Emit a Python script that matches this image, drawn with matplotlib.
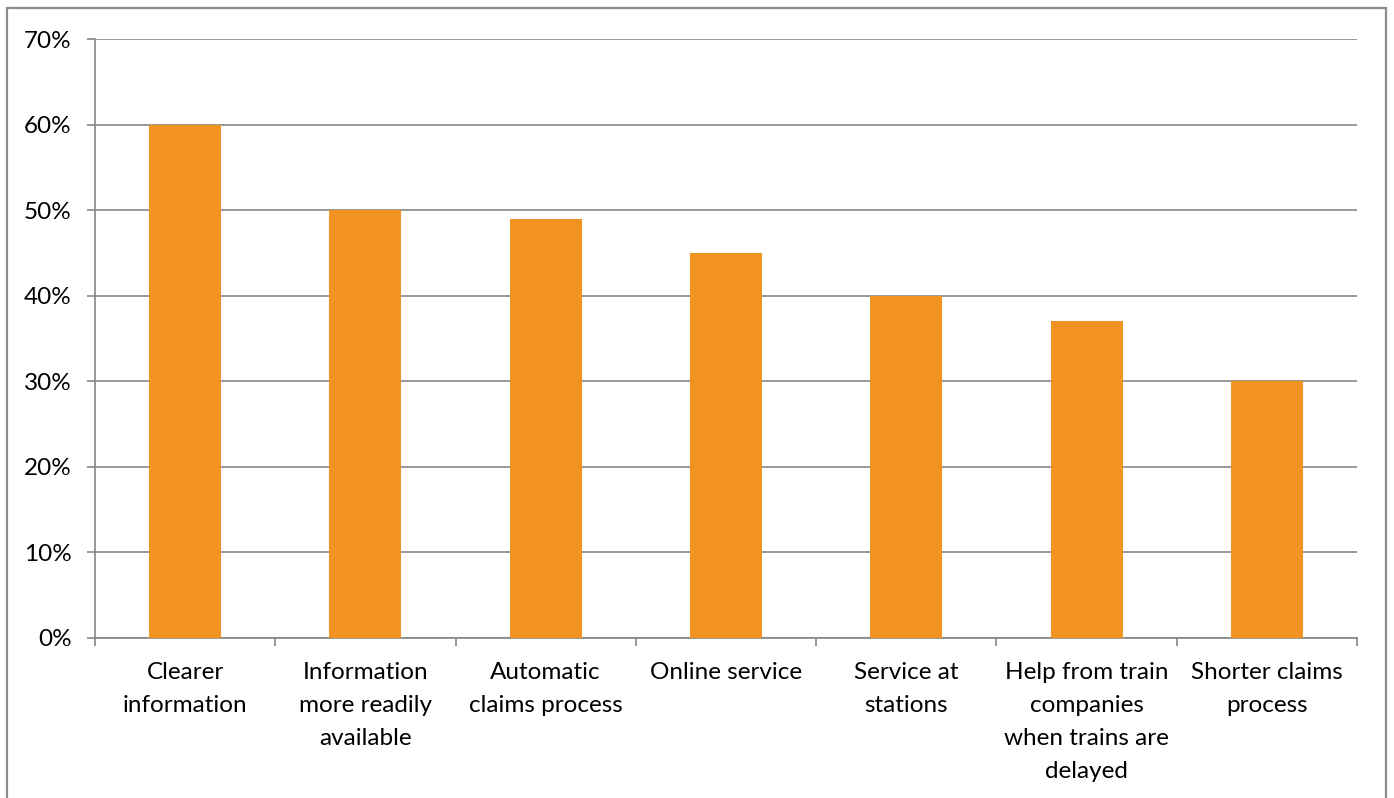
import matplotlib
matplotlib.use("Agg")
import matplotlib.pyplot as plt
from matplotlib.patches import Rectangle
from matplotlib.ticker import FuncFormatter, MultipleLocator

categories = ["Clearer\ninformation", "Information\nmore readily\navailable",
              "Automatic\nclaims process", "Online service", "Service at\nstations",
              "Help from train\ncompanies\nwhen trains are\ndelayed", "Shorter claims\nprocess"]
values = [60, 50, 49, 45, 40, 37, 30]

plt.rcParams['font.family'] = ['Lato', 'DejaVu Sans']
W, H = 1394, 798
fig = plt.figure(figsize=(W / 100, H / 100), dpi=100)
ax = fig.add_axes([95 / W, 1 - 638 / H, 1262 / W, (638 - 39) / H])

grid_c = '#868686'
x = list(range(len(values)))
ax.bar(x, values, width=0.4, color='#F29220', zorder=3)
ax.set_xlim(-0.5, len(values) - 0.5)
ax.set_ylim(0, 70)
ax.yaxis.set_major_locator(MultipleLocator(10))
ax.yaxis.set_major_formatter(FuncFormatter(lambda v, p: f"{int(v)}%"))
ax.grid(axis='y', color=grid_c, lw=1.2, zorder=0)
for s in ['top', 'right']:
    ax.spines[s].set_visible(False)
for s in ['left', 'bottom']:
    ax.spines[s].set_color(grid_c)
    ax.spines[s].set_linewidth(1.2)

ax.set_xticks([i - 0.5 for i in range(len(values) + 1)])
ax.set_xticklabels([])
for i, lab in zip(x, categories):
    ax.annotate(lab, xy=(i, 0), xycoords=('data', 'axes fraction'),
                xytext=(0, -24), textcoords='offset pixels',
                ha='center', va='top', fontsize=17.5, linespacing=1.7,
                color='black', annotation_clip=False)
ax.tick_params(axis='x', which='major', length=6, color=grid_c, width=1.2)
ax.tick_params(axis='y', length=6, color=grid_c, width=1.2, labelsize=17.5, pad=11)

fig.patches.append(Rectangle((7 / W, -0.1), (1386 - 7) / W, 1 - 8 / H + 0.1,
                             transform=fig.transFigure, fill=False,
                             edgecolor='#8c8c8c', lw=1.6))
fig.savefig("out.png", dpi=100)
